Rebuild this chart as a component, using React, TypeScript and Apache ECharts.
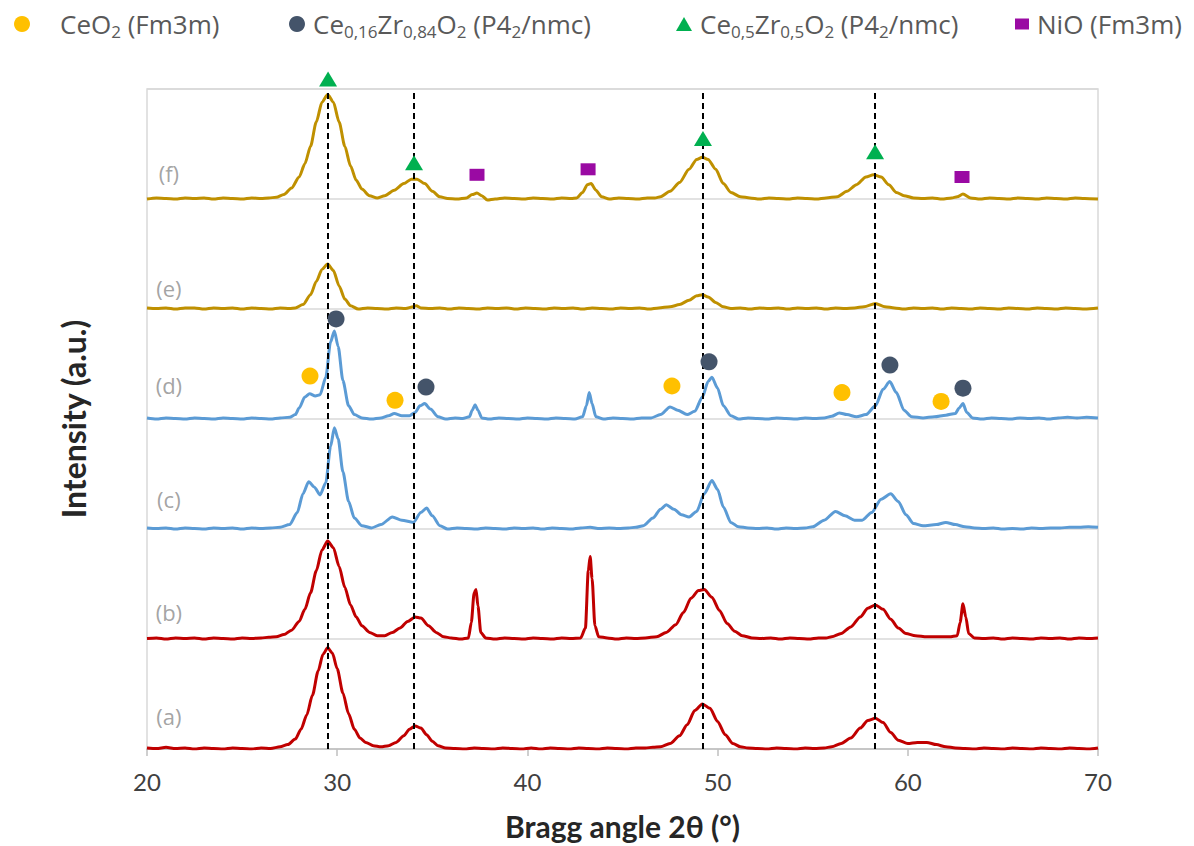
import React, { useEffect, useRef } from "react";
import * as echarts from "echarts";

// ---- Data ----
const xTicks = [20, 30, 40, 50, 60, 70];
const sampleNames = ["(a)", "(b)", "(c)", "(d)", "(e)", "(f)"];
const sampleOffsets = [0, 1, 2, 3, 4, 5];
const sampleLabelX = 21.15;
const sampleLabelY = [0.3, 1.25, 2.27, 3.31, 4.19, 5.24];
const guideLines = [29.52, 34.04, 49.23, 58.28];

const traceA: [number, number][] = [
  [20, 0.01], [20.5, 0.005], [21, 0.015], [21.5, 0.005], [22, 0.01], [22.5, 0.0], [23, 0.01], [23.5, 0.005], [24, 0.0], [24.5, 0.01], [25, 0.005], [25.5, 0.0], [26, 0.01], [26.5, 0.005],
  [27, 0.02], [27.4, 0.04], [27.8, 0.09], [28.1, 0.18], [28.4, 0.31], [28.7, 0.49], [29.0, 0.71], [29.25, 0.86], [29.5, 0.92], [29.75, 0.87], [30.0, 0.73], [30.3, 0.51], [30.6, 0.32], [30.9, 0.18], [31.2, 0.1], [31.5, 0.06], [31.9, 0.03], [32.3, 0.02], [32.7, 0.03], [33.1, 0.06], [33.5, 0.12], [33.8, 0.18], [34.1, 0.21], [34.4, 0.19], [34.7, 0.13], [35.0, 0.07], [35.3, 0.03], [35.7, 0.01],
  [36.2, 0.005], [36.7, 0.0], [37.2, 0.01], [37.7, 0.005], [38.2, 0.0], [38.7, 0.01], [39.2, 0.005], [39.7, 0.0], [40.2, 0.01], [40.7, 0.0], [41.2, 0.01], [41.7, 0.005], [42.2, 0.0], [42.7, 0.01], [43.2, 0.005], [43.7, 0.0], [44.2, 0.01], [44.7, 0.005], [45.2, 0.0], [45.7, 0.01], [46.2, 0.01], [46.6, 0.015],
  [47.0, 0.02], [47.5, 0.05], [48.0, 0.12], [48.4, 0.22], [48.8, 0.35], [49.2, 0.41], [49.6, 0.37], [50.0, 0.25], [50.4, 0.13], [50.8, 0.05], [51.2, 0.02], [51.6, 0.01],
  [52.1, 0.005], [52.6, 0.0], [53.1, 0.01], [53.6, 0.005], [54.1, 0.0], [54.6, 0.01], [55.1, 0.005], [55.6, 0.01],
  [56.0, 0.02], [56.5, 0.05], [57.0, 0.1], [57.5, 0.19], [57.9, 0.26], [58.3, 0.28], [58.7, 0.24], [59.1, 0.15], [59.5, 0.08], [60.0, 0.05], [60.5, 0.06], [61.0, 0.06], [61.5, 0.04], [62.0, 0.02], [62.5, 0.01],
  [63.0, 0.005], [63.5, 0.0], [64, 0.01], [64.5, 0.005], [65, 0.0], [65.5, 0.01], [66, 0.005], [66.5, 0.0], [67, 0.01], [67.5, 0.005], [68, 0.0], [68.5, 0.01], [69, 0.005], [69.5, 0.0], [70, 0.01],
];

const traceB: [number, number][] = [
  [20, 0.005], [20.5, 0.01], [21, 0.0], [21.5, 0.01], [22, 0.005], [22.5, 0.01], [23, 0.0], [23.5, 0.01], [24, 0.005], [24.5, 0.0], [25, 0.01], [25.5, 0.005], [26, 0.01], [26.4, 0.015],
  [26.8, 0.02], [27.2, 0.04], [27.6, 0.08], [28.0, 0.16], [28.3, 0.27], [28.6, 0.42], [28.9, 0.62], [29.2, 0.81], [29.5, 0.89], [29.8, 0.83], [30.1, 0.66], [30.4, 0.47], [30.7, 0.31], [31.0, 0.2], [31.3, 0.12], [31.7, 0.06], [32.1, 0.03], [32.5, 0.03], [32.9, 0.06], [33.3, 0.1], [33.7, 0.16], [34.1, 0.2], [34.4, 0.19], [34.8, 0.12], [35.2, 0.06], [35.6, 0.02], [36.0, 0.01], [36.5, 0.0], [36.9, 0.01],
  [37.05, 0.15], [37.2, 0.42], [37.3, 0.45], [37.4, 0.3], [37.55, 0.06], [37.8, 0.01],
  [38.3, 0.0], [38.8, 0.01], [39.3, 0.005], [39.8, 0.0], [40.3, 0.01], [40.8, 0.005], [41.3, 0.0], [41.8, 0.01], [42.3, 0.005], [42.8, 0.01],
  [43.05, 0.1], [43.2, 0.62], [43.3, 0.75], [43.4, 0.55], [43.55, 0.12], [43.75, 0.02],
  [44.2, 0.01], [44.7, 0.0], [45.2, 0.01], [45.7, 0.005], [46.2, 0.01],
  [46.8, 0.02], [47.3, 0.06], [47.8, 0.13], [48.2, 0.24], [48.6, 0.37], [49.0, 0.44], [49.3, 0.45], [49.7, 0.38], [50.1, 0.26], [50.5, 0.14], [50.9, 0.07], [51.3, 0.03], [51.8, 0.01],
  [52.3, 0.005], [52.8, 0.01], [53.3, 0.0], [53.8, 0.01], [54.3, 0.005], [54.8, 0.0], [55.3, 0.01], [55.7, 0.01],
  [56.0, 0.02], [56.5, 0.05], [57.0, 0.11], [57.5, 0.2], [57.9, 0.28], [58.3, 0.31], [58.7, 0.27], [59.1, 0.18], [59.5, 0.1], [59.9, 0.05], [60.4, 0.03], [61.0, 0.02], [61.6, 0.02], [62.2, 0.02], [62.6, 0.03],
  [62.75, 0.15], [62.9, 0.32], [63.05, 0.2], [63.2, 0.05], [63.5, 0.01],
  [64, 0.005], [64.5, 0.01], [65, 0.0], [65.5, 0.01], [66, 0.005], [66.5, 0.0], [67, 0.01], [67.5, 0.005], [68, 0.01], [68.5, 0.0], [69, 0.01], [69.5, 0.005], [70, 0.01],
];

const traceC: [number, number][] = [
  [20, 0.01], [20.5, 0.005], [21, 0.01], [21.5, 0.0], [22, 0.01], [22.5, 0.005], [23, 0.0], [23.5, 0.01], [24, 0.005], [24.5, 0.01], [25, 0.0], [25.5, 0.01], [26, 0.005], [26.5, 0.01],
  [27.0, 0.015], [27.5, 0.04], [27.9, 0.15], [28.2, 0.32], [28.5, 0.43], [28.8, 0.38], [29.1, 0.31], [29.4, 0.42], [29.65, 0.75], [29.85, 0.92], [30.05, 0.82], [30.3, 0.52], [30.6, 0.25], [30.9, 0.1], [31.3, 0.03], [31.8, 0.01], [32.3, 0.04], [32.9, 0.11], [33.4, 0.08], [34.0, 0.06], [34.4, 0.15], [34.7, 0.19], [35.0, 0.12], [35.4, 0.03], [35.8, 0.0],
  [36.3, 0.01], [36.8, 0.005], [37.3, 0.0], [37.8, 0.01], [38.3, 0.005], [38.8, 0.0], [39.3, 0.01], [39.8, 0.005], [40.3, 0.01], [40.8, 0.0], [41.3, 0.01], [41.8, 0.005], [42.3, 0.0], [42.8, 0.01], [43.3, 0.015], [43.8, 0.005], [44.3, 0.01], [44.8, 0.005], [45.3, 0.01], [45.7, 0.015],
  [46.1, 0.03], [46.6, 0.1], [47.0, 0.18], [47.3, 0.22], [47.7, 0.18], [48.1, 0.13], [48.5, 0.11], [48.9, 0.16], [49.3, 0.32], [49.7, 0.44], [50.0, 0.36], [50.3, 0.2], [50.7, 0.06], [51.1, 0.02], [51.6, 0.01],
  [52.1, 0.005], [52.6, 0.01], [53.1, 0.0], [53.6, 0.01], [54.1, 0.005], [54.6, 0.01],
  [55.0, 0.02], [55.6, 0.08], [56.2, 0.16], [56.7, 0.12], [57.2, 0.08], [57.6, 0.08], [58.1, 0.15], [58.6, 0.27], [59.1, 0.32], [59.5, 0.25], [59.9, 0.13], [60.3, 0.05], [60.8, 0.03], [61.5, 0.04], [62.0, 0.06], [62.5, 0.04], [63.0, 0.02], [63.5, 0.01],
  [64, 0.005], [64.5, 0.01], [65, 0.0], [65.5, 0.005], [66, 0.0], [66.5, 0.01], [67, 0.005], [67.5, 0.01], [68, 0.01], [68.5, 0.015], [69, 0.015], [69.5, 0.02], [70, 0.015],
];

const traceD: [number, number][] = [
  [20, 0.01], [20.5, 0.0], [21, 0.01], [21.5, 0.005], [22, 0.0], [22.5, 0.01], [23, 0.005], [23.5, 0.0], [24, 0.01], [24.5, 0.005], [25, 0.0], [25.5, 0.01], [26, 0.005], [26.5, 0.0], [27, 0.01], [27.5, 0.015],
  [27.8, 0.04], [28.0, 0.1], [28.3, 0.2], [28.55, 0.23], [28.85, 0.21], [29.1, 0.22], [29.4, 0.38], [29.65, 0.7], [29.85, 0.8], [30.05, 0.66], [30.3, 0.35], [30.6, 0.12], [30.9, 0.04], [31.3, 0.01],
  [31.8, 0.0], [32.3, 0.01], [32.7, 0.03], [33.0, 0.05], [33.4, 0.03], [33.8, 0.03], [34.1, 0.06], [34.35, 0.12], [34.6, 0.14], [34.9, 0.09], [35.3, 0.02], [35.7, 0.0],
  [36.2, 0.01], [36.6, 0.005], [36.95, 0.02], [37.1, 0.08], [37.25, 0.13], [37.4, 0.08], [37.6, 0.01],
  [38.0, 0.0], [38.5, 0.01], [39.0, 0.005], [39.5, 0.0], [40.0, 0.01], [40.5, 0.005], [41.0, 0.0], [41.5, 0.01], [42.0, 0.005], [42.5, 0.0], [42.9, 0.02],
  [43.1, 0.12], [43.25, 0.24], [43.4, 0.14], [43.6, 0.02],
  [44.0, 0.0], [44.5, 0.01], [45.0, 0.005], [45.5, 0.0], [46.0, 0.01], [46.5, 0.01],
  [47.0, 0.04], [47.5, 0.11], [47.9, 0.08], [48.4, 0.04], [48.8, 0.07], [49.2, 0.2], [49.5, 0.34], [49.7, 0.38], [50.0, 0.28], [50.3, 0.12], [50.7, 0.03], [51.1, 0.0],
  [51.6, 0.01], [52.1, 0.005], [52.6, 0.0], [53.1, 0.01], [53.6, 0.005], [54.1, 0.0], [54.6, 0.01], [55.1, 0.005], [55.6, 0.01],
  [56.0, 0.025], [56.4, 0.055], [56.8, 0.04], [57.3, 0.02], [57.8, 0.04], [58.3, 0.12], [58.7, 0.27], [59.05, 0.34], [59.4, 0.24], [59.8, 0.08], [60.2, 0.02], [60.8, 0.01], [61.4, 0.02], [62.0, 0.035], [62.5, 0.05], [62.7, 0.1], [62.9, 0.14], [63.1, 0.06], [63.4, 0.01],
  [63.9, 0.0], [64.4, 0.01], [64.9, 0.005], [65.4, 0.0], [65.9, 0.01], [66.4, 0.005], [66.9, 0.01], [67.4, 0.0], [67.9, 0.01], [68.4, 0.015], [68.9, 0.01], [69.4, 0.015], [70, 0.01],
];

const traceE: [number, number][] = [
  [20, 0.01], [20.5, 0.005], [21, 0.01], [21.5, 0.0], [22, 0.01], [22.5, 0.01], [23, 0.0], [23.5, 0.01], [24, 0.005], [24.5, 0.01], [25, 0.0], [25.5, 0.01], [26, 0.005], [26.5, 0.0], [27, 0.01], [27.5, 0.005],
  [27.8, 0.01], [28.2, 0.04], [28.6, 0.13], [28.9, 0.25], [29.2, 0.36], [29.5, 0.41], [29.8, 0.35], [30.1, 0.21], [30.4, 0.09], [30.7, 0.03], [31.1, 0.0],
  [31.6, 0.01], [32.1, 0.005], [32.6, 0.0], [33.1, 0.01], [33.6, 0.005], [34.0, 0.02], [34.15, 0.03], [34.4, 0.01],
  [34.9, 0.005], [35.4, 0.01], [35.9, 0.0], [36.4, 0.01], [36.9, 0.005], [37.4, 0.0], [37.9, 0.01], [38.4, 0.005], [38.9, 0.01], [39.4, 0.0], [39.9, 0.01], [40.4, 0.005], [40.9, 0.0], [41.4, 0.01], [41.9, 0.005], [42.4, 0.01], [42.9, 0.0], [43.4, 0.01], [43.9, 0.005], [44.4, 0.0], [44.9, 0.01], [45.4, 0.005], [45.9, 0.01], [46.4, 0.0], [46.9, 0.01],
  [47.5, 0.02], [48.0, 0.04], [48.5, 0.08], [48.9, 0.12], [49.2, 0.13], [49.5, 0.11], [49.9, 0.06], [50.3, 0.02], [50.7, 0.005],
  [51.2, 0.01], [51.7, 0.0], [52.2, 0.01], [52.7, 0.005], [53.2, 0.01], [53.7, 0.0], [54.2, 0.01], [54.7, 0.005], [55.2, 0.01], [55.7, 0.0], [56.2, 0.01], [56.7, 0.005], [57.2, 0.01],
  [57.7, 0.02], [58.3, 0.05], [58.8, 0.02],
  [59.3, 0.01], [59.8, 0.0], [60.3, 0.01], [60.8, 0.005], [61.3, 0.01], [61.8, 0.0], [62.3, 0.01], [62.8, 0.005], [63.3, 0.0], [63.8, 0.01], [64.3, 0.005], [64.8, 0.0], [65.3, 0.01], [65.8, 0.005], [66.3, 0.0], [66.8, 0.01], [67.3, 0.005], [67.8, 0.0], [68.3, 0.01], [68.8, 0.005], [69.3, 0.0], [70, 0.01],
];

const traceF: [number, number][] = [
  [20, 0.0], [20.5, 0.01], [21, 0.005], [21.5, 0.0], [22, 0.01], [22.5, 0.005], [23, 0.01], [23.5, 0.0], [24, 0.01], [24.5, 0.005], [25, 0.0], [25.5, 0.01], [26, 0.005], [26.4, 0.01],
  [26.8, 0.015], [27.2, 0.04], [27.6, 0.1], [28.0, 0.2], [28.3, 0.32], [28.6, 0.48], [28.9, 0.7], [29.2, 0.88], [29.5, 0.95], [29.8, 0.88], [30.1, 0.7], [30.4, 0.48], [30.7, 0.3], [31.0, 0.17], [31.3, 0.09], [31.7, 0.03], [32.1, 0.01], [32.5, 0.03], [33.0, 0.08], [33.5, 0.14], [33.9, 0.18], [34.2, 0.18], [34.6, 0.14], [35.0, 0.07], [35.4, 0.02], [35.8, 0.005],
  [36.3, 0.0], [36.8, 0.01], [37.1, 0.04], [37.35, 0.055], [37.6, 0.03], [37.9, -0.01], [38.3, 0.0],
  [38.8, 0.01], [39.3, 0.005], [39.8, 0.0], [40.3, 0.01], [40.8, 0.005], [41.3, 0.0], [41.8, 0.01], [42.3, 0.005], [42.6, 0.01],
  [42.9, 0.06], [43.15, 0.13], [43.35, 0.14], [43.6, 0.08], [43.9, 0.02], [44.3, 0.0],
  [44.8, 0.01], [45.3, 0.005], [45.8, 0.0], [46.3, 0.01], [46.7, 0.01],
  [47.0, 0.02], [47.5, 0.07], [48.0, 0.15], [48.5, 0.27], [48.9, 0.36], [49.2, 0.38], [49.5, 0.36], [49.9, 0.27], [50.3, 0.14], [50.7, 0.06], [51.2, 0.02], [51.7, 0.01],
  [52.2, 0.0], [52.7, 0.01], [53.2, 0.005], [53.7, 0.0], [54.2, 0.01], [54.7, 0.005], [55.2, 0.0], [55.7, 0.01],
  [56.3, 0.02], [56.8, 0.07], [57.3, 0.13], [57.8, 0.2], [58.2, 0.22], [58.6, 0.2], [59.0, 0.13], [59.4, 0.06], [59.8, 0.03], [60.3, 0.01],
  [60.8, 0.005], [61.3, 0.01], [61.8, 0.0], [62.3, 0.01], [62.6, 0.02], [62.9, 0.045], [63.3, 0.01],
  [63.8, 0.0], [64.3, 0.01], [64.8, 0.005], [65.3, 0.0], [65.8, 0.01], [66.3, 0.005], [66.8, 0.0], [67.3, 0.01], [67.8, 0.005], [68.3, 0.0], [68.8, 0.01], [69.3, 0.005], [70, 0.0],
];

const traces = [traceA, traceB, traceC, traceD, traceE, traceF];
const traceColors = ["#c00000", "#c00000", "#5b9bd5", "#5b9bd5", "#bf9000", "#bf9000"];

// phase markers [2θ, stacked intensity]
const ceo2Marks: [number, number][] = [[28.57, 3.39], [33.04, 3.17], [47.6, 3.3], [56.54, 3.24], [61.75, 3.16]];
const cz016Marks: [number, number][] = [[29.94, 3.91], [34.67, 3.29], [49.55, 3.52], [59.06, 3.49], [62.9, 3.28]];
const cz05Marks: [number, number][] = [[29.52, 6.09], [34.04, 5.33], [49.23, 5.55], [58.28, 5.43]];
const nioMarks: [number, number][] = [[37.35, 5.22], [43.19, 5.27], [62.85, 5.2]];

const phaseNames = ["CeO2", "CZ016", "CZ05", "NiO"];
const phaseLabels: Record<string, string> = {
  CeO2: "{pad1|}CeO{sub|2} (Fm3m)",
  CZ016: "{pad|}Ce{sub|0,16}Zr{sub|0,84}O{sub|2} (P4{sub|2}/nmc)",
  CZ05: "{pad|}Ce{sub|0,5}Zr{sub|0,5}O{sub|2} (P4{sub|2}/nmc)",
  NiO: "{pad|}NiO (Fm3m)",
};
const phaseColors = ["#ffc000", "#44546a", "#00b050", "#9a0aa3"];

const LEGEND_FONT = "'Open Sans', 'Noto Sans', sans-serif";
const AXIS_FONT = "Lato, 'Open Sans', sans-serif";

export default function App() {
  const ref = useRef<HTMLDivElement>(null);

  useEffect(() => {
    if (!ref.current) return;
    const chart = echarts.init(ref.current, undefined, { renderer: "svg" });

    const legendText = {
      fontSize: 26,
      lineHeight: 32,
      color: "#595959",
      fontFamily: LEGEND_FONT,
      rich: {
        sub: { fontSize: 17, lineHeight: 17, verticalAlign: "bottom", color: "#595959", fontFamily: LEGEND_FONT },
        pad: { width: 3 },
        pad1: { width: 25 },
      },
    };
    const mkLegend = (name: string, left: number, icon: string, w: number, h: number) => ({
      data: [{ name, icon }],
      left,
      top: 8,
      padding: 0,
      itemWidth: w,
      itemHeight: h,
      selectedMode: false,
      formatter: (n: string) => phaseLabels[n],
      textStyle: legendText,
    });

    const traceSeries = traces.map((t, i) => ({
      name: sampleNames[i],
      type: "line",
      data: t.map(([x, y]) => [x, y + sampleOffsets[i]]),
      showSymbol: false,
      smooth: 0.25,
      smoothMonotone: "x",
      lineStyle: { color: traceColors[i], width: 3 },
      itemStyle: { color: traceColors[i] },
      z: 2,
      silent: true,
    }));

    const markSets = [ceo2Marks, cz016Marks, cz05Marks, nioMarks];
    const markSymbols = ["circle", "circle", "triangle", "rect"];
    const markSizes: any[] = [17, 17, [18, 15], [15, 12]];
    const markerSeries = markSets.map((m, i) => ({
      name: phaseNames[i],
      type: "scatter",
      data: m,
      symbol: markSymbols[i],
      symbolSize: markSizes[i],
      itemStyle: { color: phaseColors[i], opacity: 1 },
      clip: false,
      z: 5,
      silent: true,
    }));

    chart.setOption({
      animation: false,
      backgroundColor: "#ffffff",
      grid: {
        left: 147,
        right: 96,
        top: 89,
        bottom: 96,
        show: true,
        borderColor: "#d9d9d9",
        borderWidth: 1.5,
      },
      legend: [
        mkLegend("CeO2", 14, "circle", 16, 16),
        mkLegend("CZ016", 289, "circle", 16, 16),
        mkLegend("CZ05", 676, "triangle", 16, 14),
        mkLegend("NiO", 1015, "rect", 14, 11),
      ],
      xAxis: {
        type: "value",
        min: xTicks[0],
        max: xTicks[xTicks.length - 1],
        interval: 10,
        name: "Bragg angle 2θ (°)",
        nameLocation: "middle",
        nameGap: 62,
        nameTextStyle: { fontSize: 30, fontWeight: "bold", color: "#262626", fontFamily: AXIS_FONT },
        axisLine: { show: true, lineStyle: { color: "#bfbfbf", width: 1.5 } },
        axisTick: { show: true, length: 7, lineStyle: { color: "#bfbfbf", width: 1.5 } },
        axisLabel: { fontSize: 24, color: "#404040", margin: 20, fontFamily: AXIS_FONT },
        splitLine: { show: false },
      },
      yAxis: {
        type: "value",
        min: 0,
        max: 6,
        interval: 1,
        name: "Intensity (a.u.)",
        nameLocation: "middle",
        nameGap: 58,
        nameTextStyle: { fontSize: 32, fontWeight: "bold", color: "#262626", fontFamily: AXIS_FONT },
        axisLine: { show: false },
        axisTick: { show: false },
        axisLabel: { show: false },
        splitLine: { show: true, lineStyle: { color: "#d9d9d9", width: 1.5 } },
      },
      series: [
        ...traceSeries,
        {
          name: "guides",
          type: "line",
          data: [],
          z: 4,
          silent: true,
          markLine: {
            silent: true,
            symbol: ["none", "none"],
            label: { show: false },
            lineStyle: { color: "#000000", type: [6, 4], width: 2 },
            data: guideLines.map((x) => ({ xAxis: x })),
          },
        },
        ...markerSeries,
        {
          name: "sampleLabels",
          type: "scatter",
          symbolSize: 1,
          itemStyle: { color: "rgba(0,0,0,0)" },
          silent: true,
          z: 6,
          data: sampleNames.map((n, i) => ({ name: n, value: [sampleLabelX, sampleLabelY[i]] })),
          label: {
            show: true,
            position: "inside",
            formatter: "{b}",
            fontSize: 22,
            color: "#8c8c8c",
            fontFamily: LEGEND_FONT,
          },
        },
      ],
    });

    return () => chart.dispose();
  }, []);

  return <div ref={ref} style={{ width: 1194, height: 846, position: "fixed", left: 0, top: 0 }} />;
}
